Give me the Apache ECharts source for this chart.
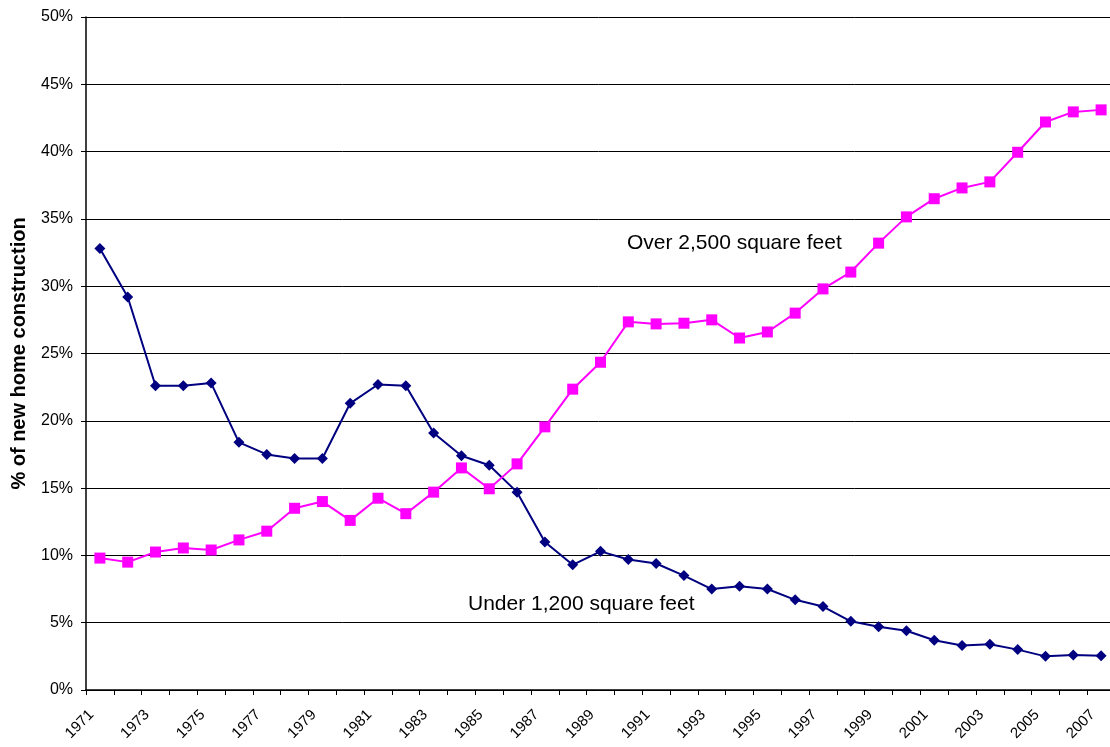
<!DOCTYPE html>
<html>
<head>
<meta charset="utf-8">
<script src="https://cdn.jsdelivr.net/npm/echarts@6/dist/echarts.min.js"></script>
<style>
html,body{margin:0;padding:0;background:#fff;}
#chart{width:1110px;height:747px;}
</style>
</head>
<body>
<div id="chart"></div>
<script>
const years = ['1971','1972','1973','1974','1975','1976','1977','1978','1979','1980','1981','1982','1983','1984','1985','1986','1987','1988','1989','1990','1991','1992','1993','1994','1995','1996','1997','1998','1999','2000','2001','2002','2003','2004','2005','2006','2007'];
const under1200 = [32.8,29.2,22.6,22.6,22.8,18.4,17.5,17.2,17.2,21.3,22.7,22.6,19.1,17.4,16.7,14.7,11.0,9.3,10.3,9.7,9.4,8.5,7.5,7.7,7.5,6.7,6.2,5.1,4.7,4.4,3.7,3.3,3.4,3.0,2.5,2.6,2.55];
const over2500 = [9.8,9.5,10.25,10.55,10.4,11.15,11.8,13.5,14.0,12.6,14.25,13.1,14.7,16.5,14.95,16.8,19.55,22.35,24.35,27.35,27.2,27.25,27.5,26.15,26.6,28.0,29.8,31.05,33.2,35.15,36.5,37.3,37.75,39.95,42.2,42.95,43.1];
const yTicks = [0,5,10,15,20,25,30,35,40,45,50];

const chart = echarts.init(document.getElementById('chart'));
const font = 'Liberation Sans, Arial, sans-serif';
chart.setOption({
  animation: false,
  backgroundColor: '#fff',
  grid: {left: 86, top: 17, width: 1029, bottom: 57, containLabel: false, outerBoundsMode: 'none'},
  xAxis: {
    type: 'category',
    data: years,
    boundaryGap: true,
    axisLine: {lineStyle: {color: '#000', width: 1.5}},
    axisTick: {show: true, interval: 0, length: 5, lineStyle: {color: '#000'}},
    axisLabel: {interval: 1, rotate: 45, fontFamily: font, fontSize: 15, color: '#000', margin: 14, padding: [0, 12, 0, 0]},
    splitLine: {show: false}
  },
  yAxis: {
    type: 'value',
    min: yTicks[0],
    max: yTicks[yTicks.length - 1],
    interval: 5,
    name: '% of new home construction',
    nameLocation: 'middle',
    nameGap: 57,
    nameTextStyle: {fontFamily: font, fontSize: 20, fontWeight: 'bold', color: '#000'},
    axisLine: {show: true, lineStyle: {color: '#000', width: 1.5}},
    axisTick: {show: true, length: 5, lineStyle: {color: '#000'}},
    axisLabel: {formatter: '{value}%', fontFamily: font, fontSize: 16, color: '#000', margin: 13},
    splitLine: {show: true, lineStyle: {color: '#000', width: 1}}
  },
  series: [
    {
      name: 'Under 1,200 square feet',
      type: 'line',
      data: under1200,
      symbol: 'diamond',
      symbolSize: 11,
      showAllSymbol: true,
      lineStyle: {color: '#000080', width: 2},
      itemStyle: {color: '#000080'}
    },
    {
      name: 'Over 2,500 square feet',
      type: 'line',
      data: over2500,
      symbol: 'rect',
      symbolSize: 11,
      showAllSymbol: true,
      lineStyle: {color: '#ff00ff', width: 2},
      itemStyle: {color: '#ff00ff'}
    }
  ],
  graphic: [
    {type: 'text', left: 627, top: 233, style: {text: 'Over 2,500 square feet', font: '21px ' + font, fill: '#000'}},
    {type: 'text', left: 468, top: 594, style: {text: 'Under 1,200 square feet', font: '21px ' + font, fill: '#000'}}
  ]
});
</script>
</body>
</html>
